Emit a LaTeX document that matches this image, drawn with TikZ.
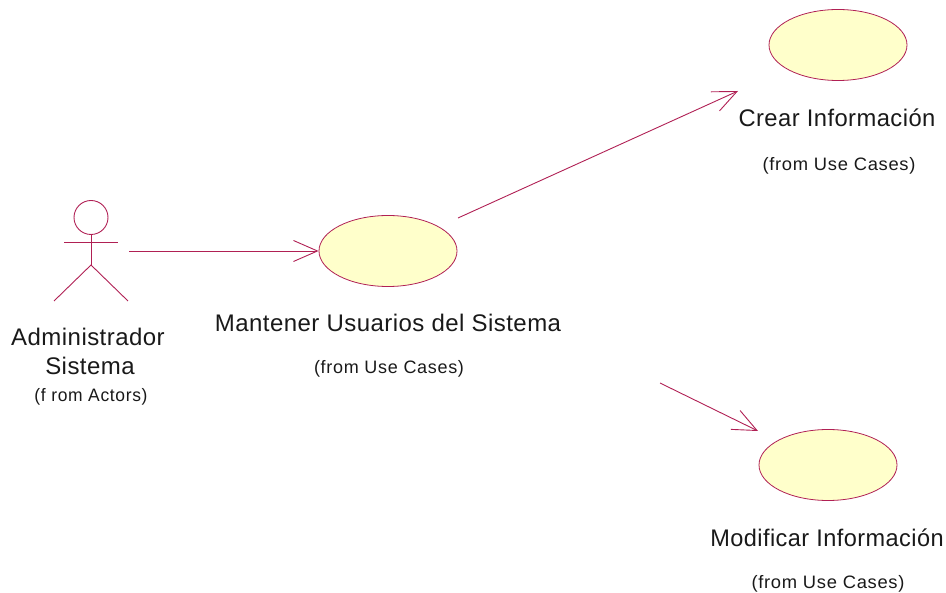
\documentclass[tikz,border=0pt]{standalone}
\usepackage{fontspec}
\setmainfont{Liberation Sans}
\newfontfamily\bigface[LetterSpace=1.9]{Liberation Sans}
\newfontfamily\smallface[LetterSpace=3.8]{Liberation Sans}
\usetikzlibrary{arrows.meta,shapes.geometric}
\definecolor{umlline}{RGB}{176,32,84}
\definecolor{umlfill}{RGB}{255,255,203}
\tikzset{
  usecase/.style={draw=umlline,fill=umlfill,line width=0.8pt,shape=ellipse,minimum width=138pt,minimum height=71pt,inner sep=0pt},
  conn/.style={draw=umlline,line width=0.9pt,-{Straight Barb[length=24pt,width=21pt,line width=0.9pt]}},
  stick/.style={draw=umlline,line width=0.9pt},
  bigtext/.style={inner sep=0pt,font=\bigface\fontsize{24}{28}\selectfont,text=black!90},
  smalltext/.style={inner sep=0pt,font=\smallface\fontsize{18}{21}\selectfont,text=black!90}
}
\begin{document}
\begin{tikzpicture}[x=1pt,y=-1pt]
\useasboundingbox (0,0) rectangle (946,593);
\node[usecase] (mant) at (388,251) {};
\node[usecase] (crear) at (838,45) {};
\node[usecase] (modif) at (828,465) {};
\node[bigtext] (tmant) at (388,323) {Mantener Usuarios del Sistema};
\node[smalltext] (fmant) at (389,369) {(from Use Cases)};
\node[bigtext,xscale=0.99] (tcrear) at (837,118) {Crear Información};
\node[smalltext,xscale=1.02] (fcrear) at (839,166) {(from Use Cases)};
\node[bigtext,xscale=0.98] (tmodif) at (827,538) {Modificar Información};
\node[smalltext,xscale=1.02] (fmodif) at (828,584) {(from Use Cases)};
\node[bigtext] (tadm) at (88,337) {Administrador};
\node[bigtext] (tsis) at (90,366) {Sistema};
\node[smalltext,xscale=0.97] (fadm) at (91,397) {(f rom Actors)};
% actor
\node[stick,circle,minimum size=34pt,inner sep=0pt] (head) at (91,217.5) {};
\coordinate (armL) at (64,242);
\coordinate (armR) at (118,242);
\coordinate (hip) at (91,265);
\coordinate (legL) at (54,301);
\coordinate (legR) at (128,301);
\draw[stick] (head.south) -- (hip);
\draw[stick] (armL) -- (armR);
\draw[stick] (legL) -- (hip) -- (legR);
% connectors
\coordinate (a1) at (129,251);
\coordinate (a2) at (458,218);
\coordinate (e2) at (738,91);
\coordinate (a3) at (660,383);
\coordinate (e3) at (758,431);
\draw[conn] (a1) -- (mant.west);
\draw[conn] (a2) -- (e2);
\draw[conn] (a3) -- (e3);
\end{tikzpicture}
\end{document}
